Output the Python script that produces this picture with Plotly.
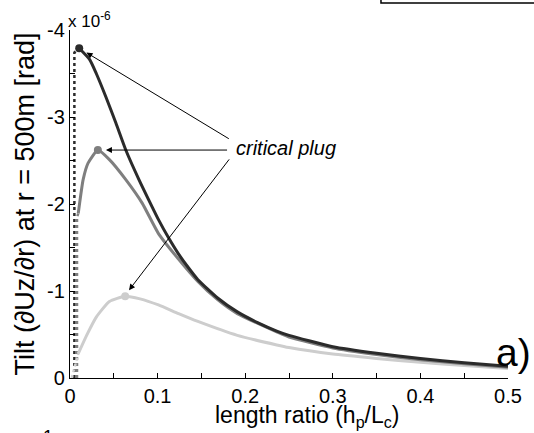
import plotly.graph_objects as go

# ---- data (tilt in units of 1e-6 rad) ----
x_dark = [0.0105, 0.0225, 0.030, 0.041, 0.0524, 0.0637, 0.0787, 0.0936, 0.101, 0.112, 0.1236, 0.135, 0.146, 0.1685,
          0.191, 0.2135, 0.236, 0.25, 0.3, 0.35, 0.4, 0.45, 0.5]
y_dark = [-3.79, -3.66, -3.50, -3.23, -2.93, -2.62, -2.28, -1.97, -1.82, -1.62, -1.43, -1.27, -1.13, -0.92,
          -0.76, -0.64, -0.54, -0.49, -0.36, -0.285, -0.225, -0.175, -0.135]

x_mid = [0.0094, 0.015, 0.0206, 0.0318, 0.045, 0.0637, 0.0824, 0.101, 0.1236, 0.146, 0.1685, 0.191, 0.236, 0.25,
         0.3, 0.35, 0.4, 0.45, 0.5]
y_mid = [-1.89, -2.28, -2.47, -2.62, -2.51, -2.28, -2.01, -1.66, -1.37, -1.11, -0.90, -0.74, -0.53, -0.47,
         -0.345, -0.27, -0.21, -0.165, -0.125]

x_light = [0.0094, 0.019, 0.03, 0.045, 0.063, 0.08, 0.101, 0.124, 0.146, 0.191, 0.236, 0.25, 0.3, 0.35, 0.4, 0.45, 0.5]
y_light = [-0.28, -0.49, -0.70, -0.88, -0.94, -0.91, -0.84, -0.74, -0.65, -0.49, -0.38, -0.35, -0.275, -0.225,
           -0.18, -0.145, -0.11]

# dotted lead-in segments
x_dark_dot = [0.005, 0.005, 0.0105]
y_dark_dot = [0.0, -3.74, -3.79]
x_mid_dot = [0.008, 0.008, 0.0094]
y_mid_dot = [0.0, -1.85, -1.89]
x_light_dot = [0.002, 0.0094]
y_light_dot = [0.0, -0.28]

# critical plug points
x_crit = [0.0105, 0.0318, 0.063]
y_crit = [-3.79, -2.62, -0.94]

# tick labels
x_ticks = [0, 0.1, 0.2, 0.3, 0.4, 0.5]
x_tick_text = ["0", "0.1", "0.2", "0.3", "0.4", "0.5"]
y_ticks = [0, -1, -2, -3, -4]
y_tick_text = ["0", "-1", "-2", "-3", "-4"]

c_dark = "#2b2b2b"
c_mid = "#7f7f7f"
c_light = "#cdcdcd"

FONT = "Liberation Sans, Arial, sans-serif"

fig = go.Figure()

for xs, ys, c in [(x_dark_dot, y_dark_dot, c_dark), (x_mid_dot, y_mid_dot, c_mid), (x_light_dot, y_light_dot, c_light)]:
    fig.add_trace(go.Scatter(x=xs, y=ys, mode="lines", line=dict(color=c, width=2.5, dash="dot"),
                             showlegend=False, hoverinfo="skip"))

for xs, ys, c in [(x_light, y_light, c_light), (x_mid, y_mid, c_mid), (x_dark, y_dark, c_dark)]:
    fig.add_trace(go.Scatter(x=xs, y=ys, mode="lines", line=dict(color=c, width=3, shape="spline", smoothing=0.5),
                             showlegend=False))

fig.add_trace(go.Scatter(x=x_crit, y=y_crit, mode="markers",
                         marker=dict(color=[c_dark, c_mid, c_light], size=8),
                         showlegend=False))

# arrows from the label to the critical plugs
tail = [(0.183, -2.74), (0.181, -2.62), (0.183, -2.53)]
heads = [(0.0188, -3.74), (0.041, -2.62), (0.0674, -1.01)]
for (tx, ty), (hx, hy) in zip(tail, heads):
    fig.add_annotation(x=hx, y=hy, ax=tx, ay=ty, xref="x", yref="y", axref="x", ayref="y",
                       showarrow=True, arrowhead=2, arrowsize=1.2, arrowwidth=1, arrowcolor="black", text="")

fig.add_annotation(x=0.1876, y=-2.64, xref="x", yref="y", text="<i>critical plug</i>", showarrow=False,
                   xanchor="left", yanchor="middle", font=dict(family=FONT, size=20, color="black"))

fig.add_annotation(x=1.058, y=0.072, xref="paper", yref="paper", text="a)", showarrow=False,
                   xanchor="right", yanchor="middle", font=dict(family=FONT, size=39, color="black"))

fig.add_annotation(x=-0.01, y=0.99, xref="paper", yref="paper", text="x 10<sup>-6</sup>", showarrow=False,
                   xanchor="left", yanchor="bottom", font=dict(family=FONT, size=17, color="black"))

# x-axis title (placed as in the reference, slightly right of centre)
fig.add_annotation(x=0.5416, y=-0.112, xref="paper", yref="paper",
                   text="length ratio (h<sub>p</sub>/L<sub>c</sub>)", showarrow=False, borderpad=0,
                   xanchor="center", yanchor="middle", font=dict(family=FONT, size=23, color="black"))

# cropped fragment at bottom-left
fig.add_annotation(x=-0.05, y=-0.135, xref="paper", yref="paper", text="1", showarrow=False,
                   xanchor="center", yanchor="top", font=dict(family=FONT, size=18, color="black"))

# cropped legend box at top-right
fig.add_shape(type="rect", xref="paper", yref="paper", x0=0.710, x1=1.1, y0=1.0776, y1=1.2,
              line=dict(color="black", width=1.5), fillcolor="white")

fig.update_layout(
    width=534, height=433,
    margin=dict(l=70, r=19, t=30, b=55),
    paper_bgcolor="white", plot_bgcolor="white",
    font=dict(family=FONT, size=20, color="black"),
    xaxis=dict(range=[0, 0.5], tickvals=x_ticks, ticktext=x_tick_text, ticks="inside", ticklen=5, tickcolor="black",
               showline=True, linecolor="black", linewidth=1.2, showgrid=False, zeroline=False,
               tickfont=dict(family=FONT, size=20),
               minor=dict(dtick=0.05, tick0=0, ticks="inside", ticklen=5, tickcolor="black", showgrid=False)),
    yaxis=dict(range=[0, -4], tickvals=y_ticks, ticktext=y_tick_text, ticks="inside", ticklen=5, tickcolor="black",
               showline=True, linecolor="black", linewidth=1.2, showgrid=False, zeroline=False,
               tickfont=dict(family=FONT, size=20),
               minor=dict(dtick=0.5, tick0=0, ticks="inside", ticklen=5, tickcolor="black", showgrid=False),
               title=dict(text="Tilt (∂Uz/∂r) at r = 500m [rad]", font=dict(family=FONT, size=27),
                          standoff=4)),
)

fig.write_html("out.html")
